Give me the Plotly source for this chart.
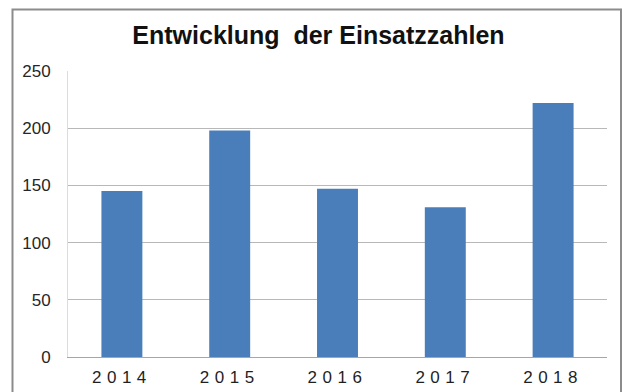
import plotly.graph_objects as go

years = ["2014", "2015", "2016", "2017", "2018"]
values = [145, 198, 147, 131, 222]
y_ticks = [0, 50, 100, 150, 200, 250]

tick_text = ['<span style="letter-spacing:5.5px">%s</span>' % y for y in years]

fig = go.Figure()
fig.add_trace(go.Bar(x=years, y=values, marker=dict(color="#4a7ebb", line=dict(width=0))))

fig.update_layout(
    width=622, height=392,
    margin=dict(l=68, r=15, t=71, b=35),
    paper_bgcolor="white", plot_bgcolor="white",
    bargap=0.62,
    showlegend=False,
    font=dict(family="Liberation Sans, Arial, sans-serif", color="#262626"),
    title=dict(text="<b>Entwicklung  der Einsatzzahlen</b>", x=0.512, xanchor="center",
               y=1 - 35 / 392, yanchor="middle",
               font=dict(size=25, color="#111111", family="Liberation Sans, Arial, sans-serif")),
    xaxis=dict(tickmode="array", tickvals=years, ticktext=tick_text, automargin=False,
               showline=True, linecolor="#a6a6a6", linewidth=1, showgrid=False,
               tickfont=dict(size=17, color="#1f1f1f"), ticklabelstandoff=5, ticks=""),
    yaxis=dict(range=[0, 250], tickmode="array", tickvals=y_ticks, automargin=False,
               showgrid=True, gridcolor="#b8b8b8", gridwidth=1,
               showline=True, linecolor="#dcdcdc", linewidth=1, zeroline=False,
               tickfont=dict(size=17, color="#262626"), ticklabelstandoff=13, ticks=""),
    shapes=[dict(type="rect", xref="paper", yref="paper",
                 x0=(12.5 - 68) / 539, x1=(621 - 68) / 539,
                 y0=(357 - 420) / 286, y1=(357 - 9.5) / 286,
                 line=dict(color="#8c8c8c", width=2), fillcolor="rgba(0,0,0,0)", layer="below")],
)

fig.write_html("out.html")
